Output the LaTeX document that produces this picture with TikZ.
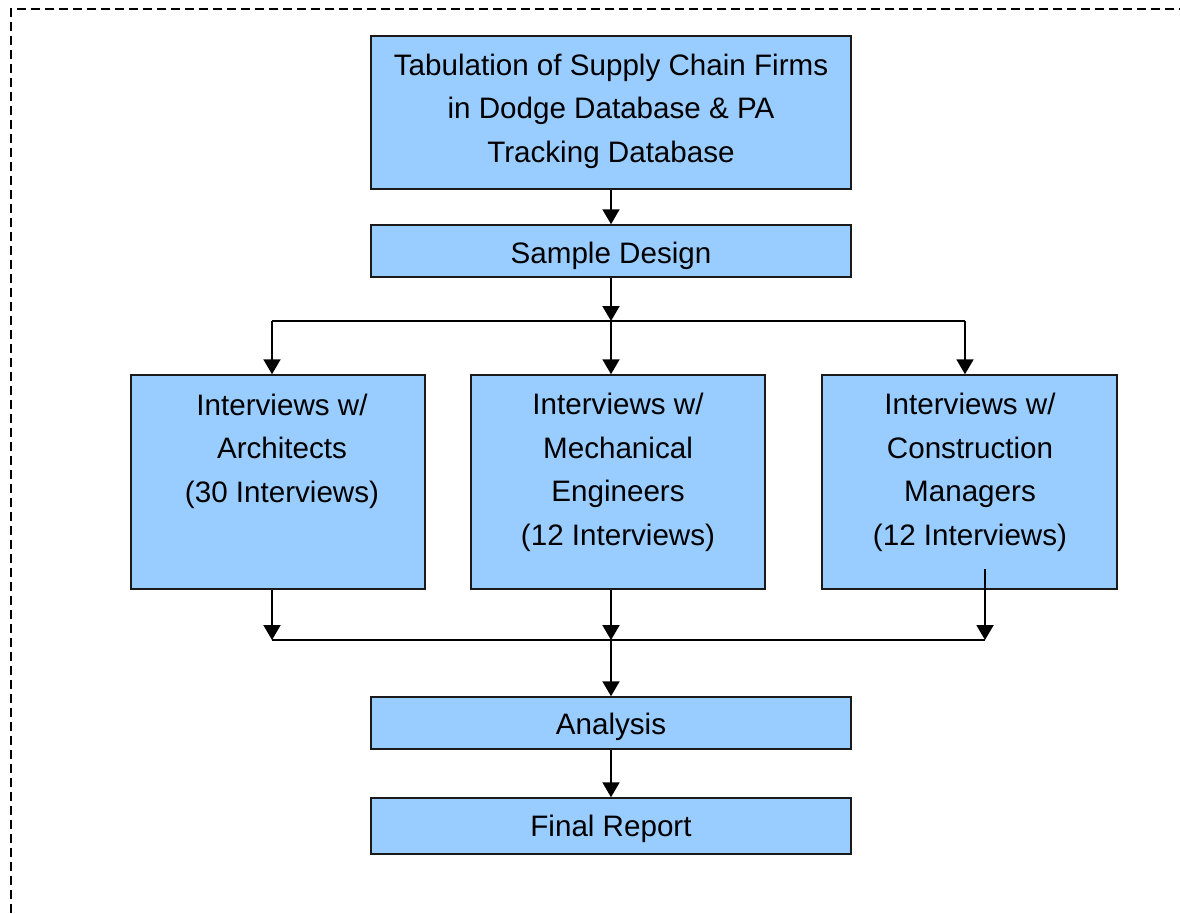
\documentclass[tikz,border=0pt]{standalone}
\usepackage{fontspec}
\setmainfont{Liberation Sans}
\usetikzlibrary{arrows.meta}
\definecolor{boxblue}{HTML}{99CCFF}
\definecolor{edge}{HTML}{1A1A1A}
\tikzset{
  box/.style={draw=edge, line width=1.5pt, fill=boxblue, rectangle, inner sep=0pt},
  txt/.style={font=\fontsize{29.6}{43.7}\selectfont, align=center, anchor=base, inner sep=0pt},
  arr/.style={line width=2pt, -{Triangle[width=17pt,length=15pt]}},
  link/.style={line width=1.5pt},
  frame/.style={line width=2pt, dash pattern=on 9pt off 5pt}
}
\begin{document}
\begin{tikzpicture}[x=1pt,y=-1pt]
\useasboundingbox (0,0) rectangle (1180,913);
\draw[frame] (11,913) -- (11,9) -- (1180,9);

\node[box, minimum width=480pt, minimum height=153pt] (top) at (611,112.5) {};
\node[box, minimum width=480pt, minimum height=52pt] (sample) at (611,251) {};
\node[box, minimum width=294pt, minimum height=214pt] (arch) at (278,482) {};
\node[box, minimum width=294pt, minimum height=214pt] (mech) at (618,482) {};
\node[box, minimum width=295pt, minimum height=214pt] (cons) at (969.5,482) {};
\node[box, minimum width=480pt, minimum height=52pt] (analysis) at (611,723) {};
\node[box, minimum width=480pt, minimum height=56pt] (final) at (611,826) {};

\node[txt] (ttop) at (611,162.5) {Tabulation of Supply Chain Firms\\in Dodge Database \& PA\\Tracking Database};
\node[txt] (tsample) at (611,263.5) {Sample Design};
\node[txt] (tarch) at (282,502.5) {Interviews w/\\Architects\\(30 Interviews)};
\node[txt] (tmech) at (618,545.5) {Interviews w/\\Mechanical\\Engineers\\(12 Interviews)};
\node[txt] (tcons) at (970,545.5) {Interviews w/\\Construction\\Managers\\(12 Interviews)};
\node[txt] (tanalysis) at (611,734.5) {Analysis};
\node[txt] (tfinal) at (611,836.5) {Final Report};

\coordinate (jm) at (611,321);
\coordinate (jl) at (272,321);
\coordinate (jr) at (965,321);
\coordinate (bl) at (272,640);
\coordinate (bm) at (611,640);
\coordinate (br) at (985,640);
\coordinate (rs) at (985,569);

\draw[arr] (top.south -| jm) -- (sample.north -| jm);
\draw[arr] (sample.south -| jm) -- (jm);
\draw[link] (jl) -- (jr);
\draw[arr] (jl) -- (jl |- arch.north);
\draw[arr] (jm) -- (jm |- mech.north);
\draw[arr] (jr) -- (jr |- cons.north);

\draw[arr] (bl |- arch.south) -- (bl);
\draw[arr] (bm |- mech.south) -- (bm);
\draw[arr] (rs) -- (br);
\draw[link] (bl) -- (br);
\draw[arr] (bm) -- (analysis.north -| bm);
\draw[arr] (analysis.south -| bm) -- (final.north -| bm);
\end{tikzpicture}
\end{document}
